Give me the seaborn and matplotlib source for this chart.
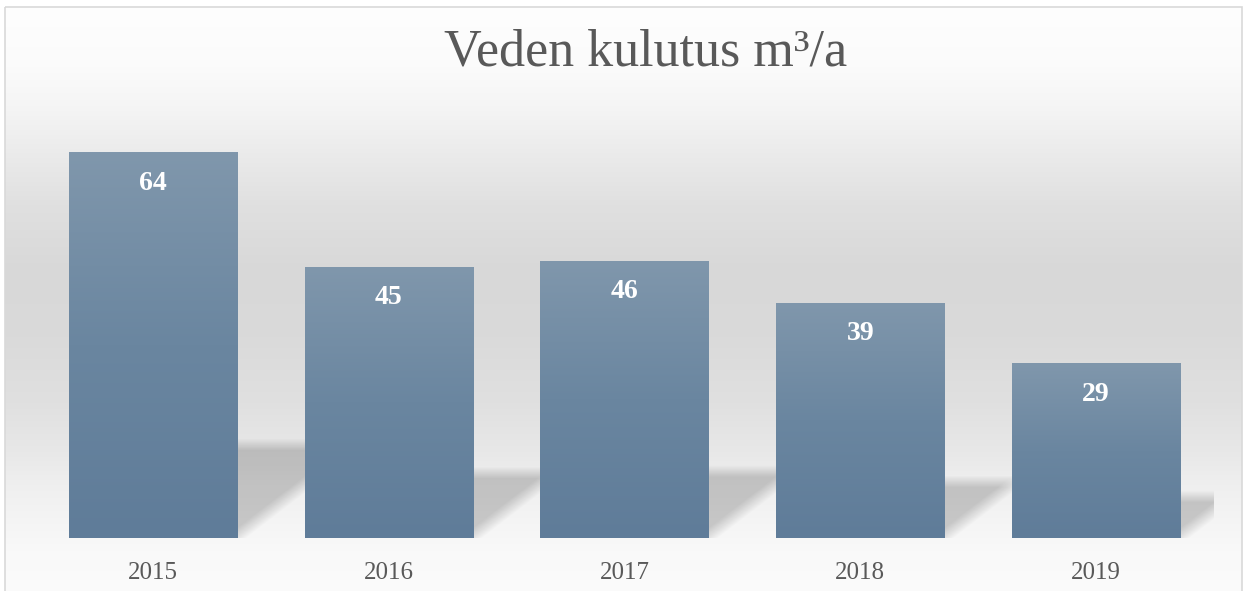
import numpy as np
import matplotlib
matplotlib.use("Agg")
import matplotlib.pyplot as plt
import seaborn as sns
from matplotlib.colors import LinearSegmentedColormap
from matplotlib.patches import Rectangle

years = ["2015", "2016", "2017", "2018", "2019"]
values = [64, 45, 46, 39, 29]
title = "Veden kulutus m³/a"

sns.set_theme(style="white")
plt.rcParams['font.family'] = ['Liberation Serif', 'DejaVu Serif']

W, H = 1244, 591
fig = plt.figure(figsize=(W / 100, H / 100), dpi=100)

# background panel with vertical grey gradient and thin border
bg = fig.add_axes([0, 0, 1, 1], zorder=-5)
bg.set_xlim(0, W)
bg.set_ylim(H, 0)
bg.axis("off")
stops = [(0, 254), (60, 251), (100, 245), (200, 224), (267, 216), (333, 218),
         (400, 224), (450, 232), (483, 239), (550, 249), (591, 251)]
rows = np.arange(H)
gray = np.interp(rows, [s[0] for s in stops], [s[1] for s in stops]) / 255
grad = np.repeat(gray[:, None], 2, axis=1)
bg.imshow(np.dstack([grad, grad, grad]), extent=[5, 1242, H, 7], aspect="auto",
          interpolation="bilinear")
bg.add_patch(Rectangle((5, 7), 1237, 600, fill=False, edgecolor="#d9d9d9", lw=1.2))

# main plot area
x0, x1 = 35, 1214
ybase, ytop = 538, 116
ax = fig.add_axes([x0 / W, (H - ybase) / H, (x1 - x0) / W, (ybase - ytop) / H])
ax.set_facecolor("none")

bar_w = 0.713
sns.barplot(x=years, y=values, color="#6f8aa3", width=bar_w, ax=ax, zorder=3,
            linewidth=0, edgecolor="none")
ylim = (0, 70)
ax.set_xlim(-0.5, len(years) - 0.5)
ax.set_ylim(*ylim)

# soft perspective shadows behind the bars
pxx = (x1 - x0) / len(years)
pxy = (ybase - ytop) / (ylim[1] - ylim[0])
nx, ny = x1 - x0, ybase - ytop
gx, gy = np.meshgrid(np.arange(nx) + 0.5, np.arange(ny) + 0.5)
alpha = np.zeros((ny, nx))
k = 1.3
for i, v in enumerate(values):
    xr = (i + 0.5) * pxx + bar_w * pxx / 2
    xl = (i + 0.5) * pxx - bar_w * pxx / 2
    hs = 0.245 * v * pxy
    top = np.clip((hs - gy + 5) / 12, 0, 1)
    diag = np.clip(((xr + k * gy - gx) / np.sqrt(1 + k * k) + 6) / 14, 0, 1)
    left = np.clip((gx - xl) / 4, 0, 1)
    alpha = np.maximum(alpha, top * diag * left)
shadow = np.zeros((ny, nx, 4))
shadow[..., 3] = alpha * 0.19
ax.imshow(shadow, extent=[-0.5, len(years) - 0.5, ylim[0], ylim[1]], origin="lower",
          aspect="auto", zorder=1, interpolation="bilinear")

# vertical gradient fill on each bar
bar_cmap = LinearSegmentedColormap.from_list("bar", ["#5f7c99", "#6a86a0", "#8097ac"])
g = np.linspace(0, 1, 256)[:, None]
for p in list(ax.patches):
    bx, bwid, bh = p.get_x(), p.get_width(), p.get_height()
    im = ax.imshow(g, extent=[bx, bx + bwid, 0, bh], origin="lower", aspect="auto",
                   cmap=bar_cmap, zorder=4)
    im.set_clip_path(p)

for i, v in enumerate(values):
    ax.annotate(str(v), (i, v), xytext=(0, -31), textcoords="offset pixels",
                ha="center", va="center", color="white", fontsize=20, fontweight="bold",
                zorder=6)

ax.set_xlim(-0.5, len(years) - 0.5)
ax.set_ylim(*ylim)
sns.despine(ax=ax, left=True, bottom=True)
ax.set_yticks([])
ax.set_xlabel("")
ax.set_ylabel("")
ax.tick_params(axis="x", length=0, pad=17, labelsize=18, labelcolor="#595959")

fig.text(646 / W, 1 - 65 / H, title, ha="center", va="baseline", fontsize=37.5,
         color="#595959")

fig.savefig("out.png", dpi=100)
